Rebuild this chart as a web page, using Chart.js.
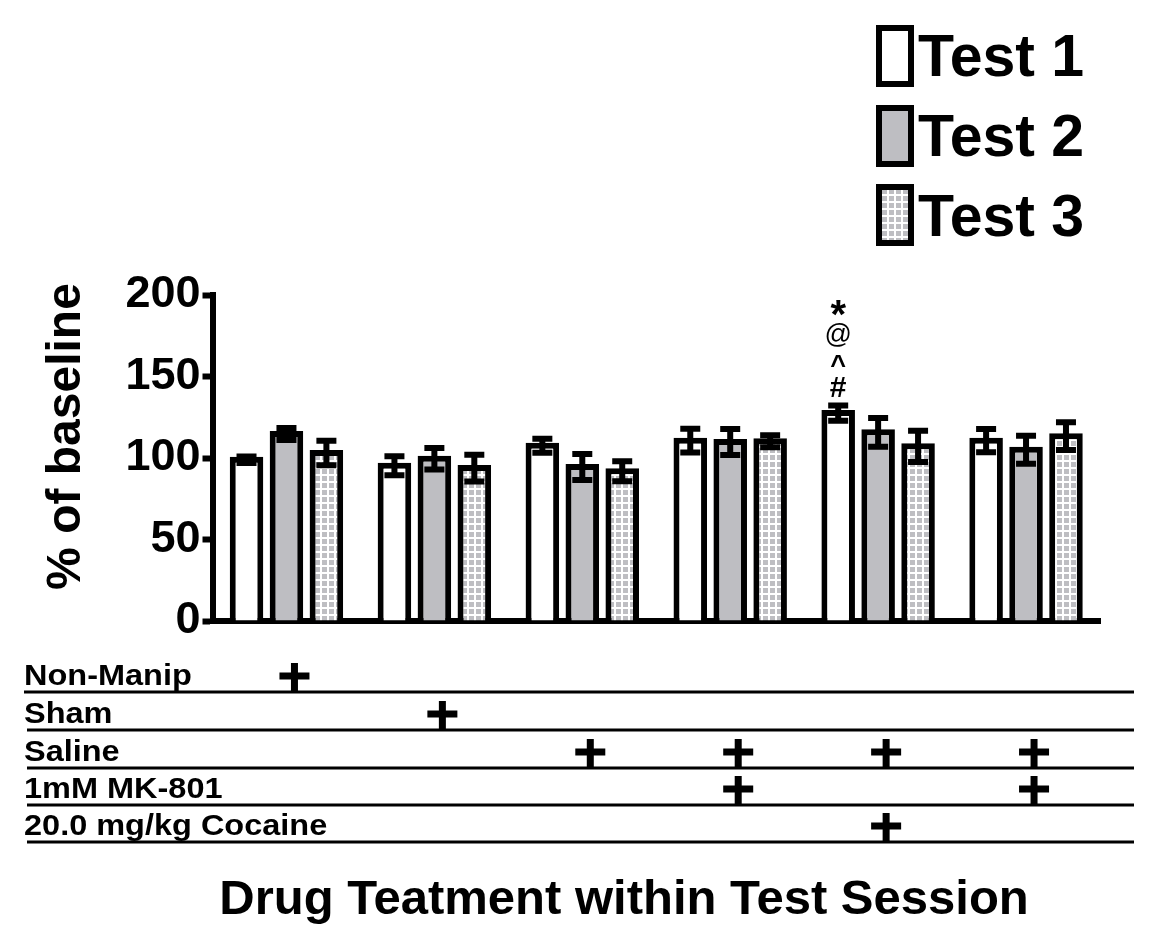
<!DOCTYPE html>
<html>
<head>
<meta charset="utf-8">
<script src="https://cdn.jsdelivr.net/npm/chart.js@4.4.0/dist/chart.umd.min.js"></script>
<style>
  html, body { margin: 0; padding: 0; background: #fff; }
  #c { display: block; }
</style>
</head>
<body>
<canvas id="c" width="1167" height="949"></canvas>
<script>
// ---------- data ----------
const groups = ["Non-Manip", "Sham", "Saline", "Saline + MK-801", "Saline + Cocaine", "Saline + MK-801 (b)"];
const seriesNames = ["Test 1", "Test 2", "Test 3"];
const test1 = [100.8, 97.1, 109.4, 112.5, 129.4, 112.5];
const test2 = [116.6, 101.4, 96.3, 111.7, 117.6, 106.9];
const test3 = [104.9, 95.7, 93.7, 112.1, 109.0, 115.2];
const err1 = [2.0, 5.8, 4.3, 7.3, 4.7, 7.2];
const err2 = [3.7, 6.6, 8.0, 8.0, 8.8, 8.6];
const err3 = [7.5, 8.2, 6.1, 3.7, 9.6, 8.5];
const yTicks = [0, 50, 100, 150, 200];
const rowLabels = ["Non-Manip", "Sham", "Saline", "1mM MK-801", "20.0 mg/kg Cocaine"];
const rowNonManip = [1, 0, 0, 0, 0, 0];
const rowSham     = [0, 1, 0, 0, 0, 0];
const rowSaline   = [0, 0, 1, 1, 1, 1];
const rowMK801    = [0, 0, 0, 1, 0, 1];
const rowCocaine  = [0, 0, 0, 0, 1, 0];
const sigMarks = ["*", "@", "^", "#"];   // on Test 1, group 5
const sigGroup = 4;
const yTitle = "% of baseline";
const xTitle = "Drug Teatment within Test Session";

// ---------- styles ----------
const FONT = '"Liberation Sans", Arial, Helvetica, sans-serif';
const GRAY = '#bebec2';
function makePattern() {
  const p = document.createElement('canvas');
  p.width = 7; p.height = 7;
  const g = p.getContext('2d');
  g.fillStyle = GRAY; g.fillRect(0, 0, 7, 7);
  g.fillStyle = '#ffffff';
  g.fillRect(5, 0, 2, 7);
  g.fillRect(0, 5, 7, 2);
  return g.createPattern(p, 'repeat');
}
const ctx = document.getElementById('c').getContext('2d');
const pattern = makePattern();
const fills = ['#ffffff', GRAY, pattern];
const errs = [err1, err2, err3];
const rows = [rowNonManip, rowSham, rowSaline, rowMK801, rowCocaine];
const BW = 6;

const extras = {
  id: 'extras',
  afterDatasetsDraw(chart) {
    const c = chart.ctx;
    const ys = chart.scales.y;
    // error bars
    c.save();
    c.strokeStyle = '#000';
    c.lineWidth = 6;
    c.lineCap = 'butt';
    chart.data.datasets.forEach((ds, di) => {
      const meta = chart.getDatasetMeta(di);
      meta.data.forEach((bar, i) => {
        const v = ds.data[i], e = errs[di][i];
        const yt = ys.getPixelForValue(v + e) + BW / 2;
        const yb = ys.getPixelForValue(v - e) + BW / 2;
        const x = bar.x, hw = 10;
        c.beginPath();
        c.moveTo(x, yt - 3); c.lineTo(x, yb + 3);
        c.moveTo(x - hw, yt); c.lineTo(x + hw, yt);
        c.moveTo(x - hw, yb); c.lineTo(x + hw, yb);
        c.stroke();
      });
    });
    c.restore();
  },
  afterDraw(chart) {
    const c = chart.ctx;
    const xs = chart.scales.x, ys = chart.scales.y;
    c.save();
    c.fillStyle = '#000';

    // significance marks above Test 1 bar of group 5
    const bar = chart.getDatasetMeta(0).data[sigGroup];
    const capTop = ys.getPixelForValue(test1[sigGroup] + err1[sigGroup]) + BW / 2 - 3;
    c.textAlign = 'center';
    c.textBaseline = 'alphabetic';
    const sigStyles = [
      { f: 'bold 40px ' + FONT, dy: -74 },
      { f: '27px ' + FONT, dy: -59 },
      { f: 'bold 27px ' + FONT, dy: -28 },
      { f: 'bold 30px ' + FONT, dy: -5 }
    ];
    sigMarks.forEach((m, k) => {
      c.font = sigStyles[k].f;
      c.fillText(m, bar.x, capTop + sigStyles[k].dy);
    });

    // y title
    c.save();
    c.translate(80, 436.5);
    c.rotate(-Math.PI / 2);
    c.font = 'bold 48px ' + FONT;
    c.textAlign = 'center';
    c.textBaseline = 'alphabetic';
    c.fillText(yTitle, 0, 0);
    c.restore();

    // legend
    const legY = [25, 105, 184];
    const legBaseline = [76, 156, 236];
    seriesNames.forEach((name, k) => {
      const bx = 876, by = legY[k], bw = 38, bh = 62;
      c.fillStyle = '#000';
      c.fillRect(bx, by, bw, bh);
      c.fillStyle = fills[k];
      c.fillRect(bx + BW, by + BW, bw - 2 * BW, bh - 2 * BW);
      c.fillStyle = '#000';
      c.font = 'bold 59px ' + FONT;
      c.textAlign = 'left';
      c.textBaseline = 'alphabetic';
      c.fillText(name, 918, legBaseline[k]);
    });

    // treatment table
    const lineY = [692, 730, 768, 805, 842];
    rowLabels.forEach((lab, r) => {
      const ly = lineY[r];
      c.fillStyle = '#000';
      c.fillRect(r === 0 ? 24 : 27, ly - 1.5, 1110 - (r === 0 ? 0 : 3), 3);
      c.save();
      c.translate(24, ly - 7);
      c.scale(1.12, 1);
      c.font = 'bold 29px ' + FONT;
      c.textAlign = 'left';
      c.textBaseline = 'alphabetic';
      c.fillText(lab, 0, 0);
      c.restore();
      rows[r].forEach((on, i) => {
        if (!on) return;
        const px = xs.getPixelForValue(i) + 8;
        c.fillRect(px - 3.5, ly - 29, 7, 29);
        c.fillRect(px - 15, ly - 19.5, 30, 7);
      });
    });

    // x title
    c.font = 'bold 49px ' + FONT;
    c.textAlign = 'center';
    c.textBaseline = 'alphabetic';
    c.fillText(xTitle, 624, 914);
    c.restore();
  }
};

new Chart(ctx, {
  type: 'bar',
  data: {
    labels: groups,
    datasets: [
      { label: seriesNames[0], data: test1, backgroundColor: fills[0] },
      { label: seriesNames[1], data: test2, backgroundColor: fills[1] },
      { label: seriesNames[2], data: test3, backgroundColor: fills[2] }
    ]
  },
  options: {
    responsive: false,
    animation: false,
    devicePixelRatio: 1,
    layout: { padding: { left: 20, right: 67, top: 295, bottom: 328 } },
    datasets: {
      bar: {
        categoryPercentage: 0.81,
        barPercentage: 0.84,
        borderColor: '#000',
        borderWidth: BW,
        borderSkipped: 'start'
      }
    },
    plugins: {
      legend: { display: false },
      tooltip: { enabled: false },
      title: { display: false }
    },
    scales: {
      x: {
        z: 1,
        grid: { display: false, drawTicks: false },
        ticks: { display: false },
        border: { display: true, width: 6, color: '#000' },
        afterFit: s => { s.height = 0; }
      },
      y: {
        min: 0,
        max: 200,
        afterBuildTicks: s => { s.ticks = yTicks.map(v => ({ value: v })); },
        ticks: {
          color: '#000',
          padding: 2,
          font: { family: FONT, size: 45, weight: 'bold' }
        },
        grid: {
          drawOnChartArea: false,
          drawTicks: true,
          tickLength: 10,
          tickWidth: 6,
          tickColor: '#000'
        },
        border: { display: true, width: 6, color: '#000' },
        afterFit: s => { s.width = 192.5; }
      }
    }
  },
  plugins: [extras]
});
</script>
</body>
</html>
